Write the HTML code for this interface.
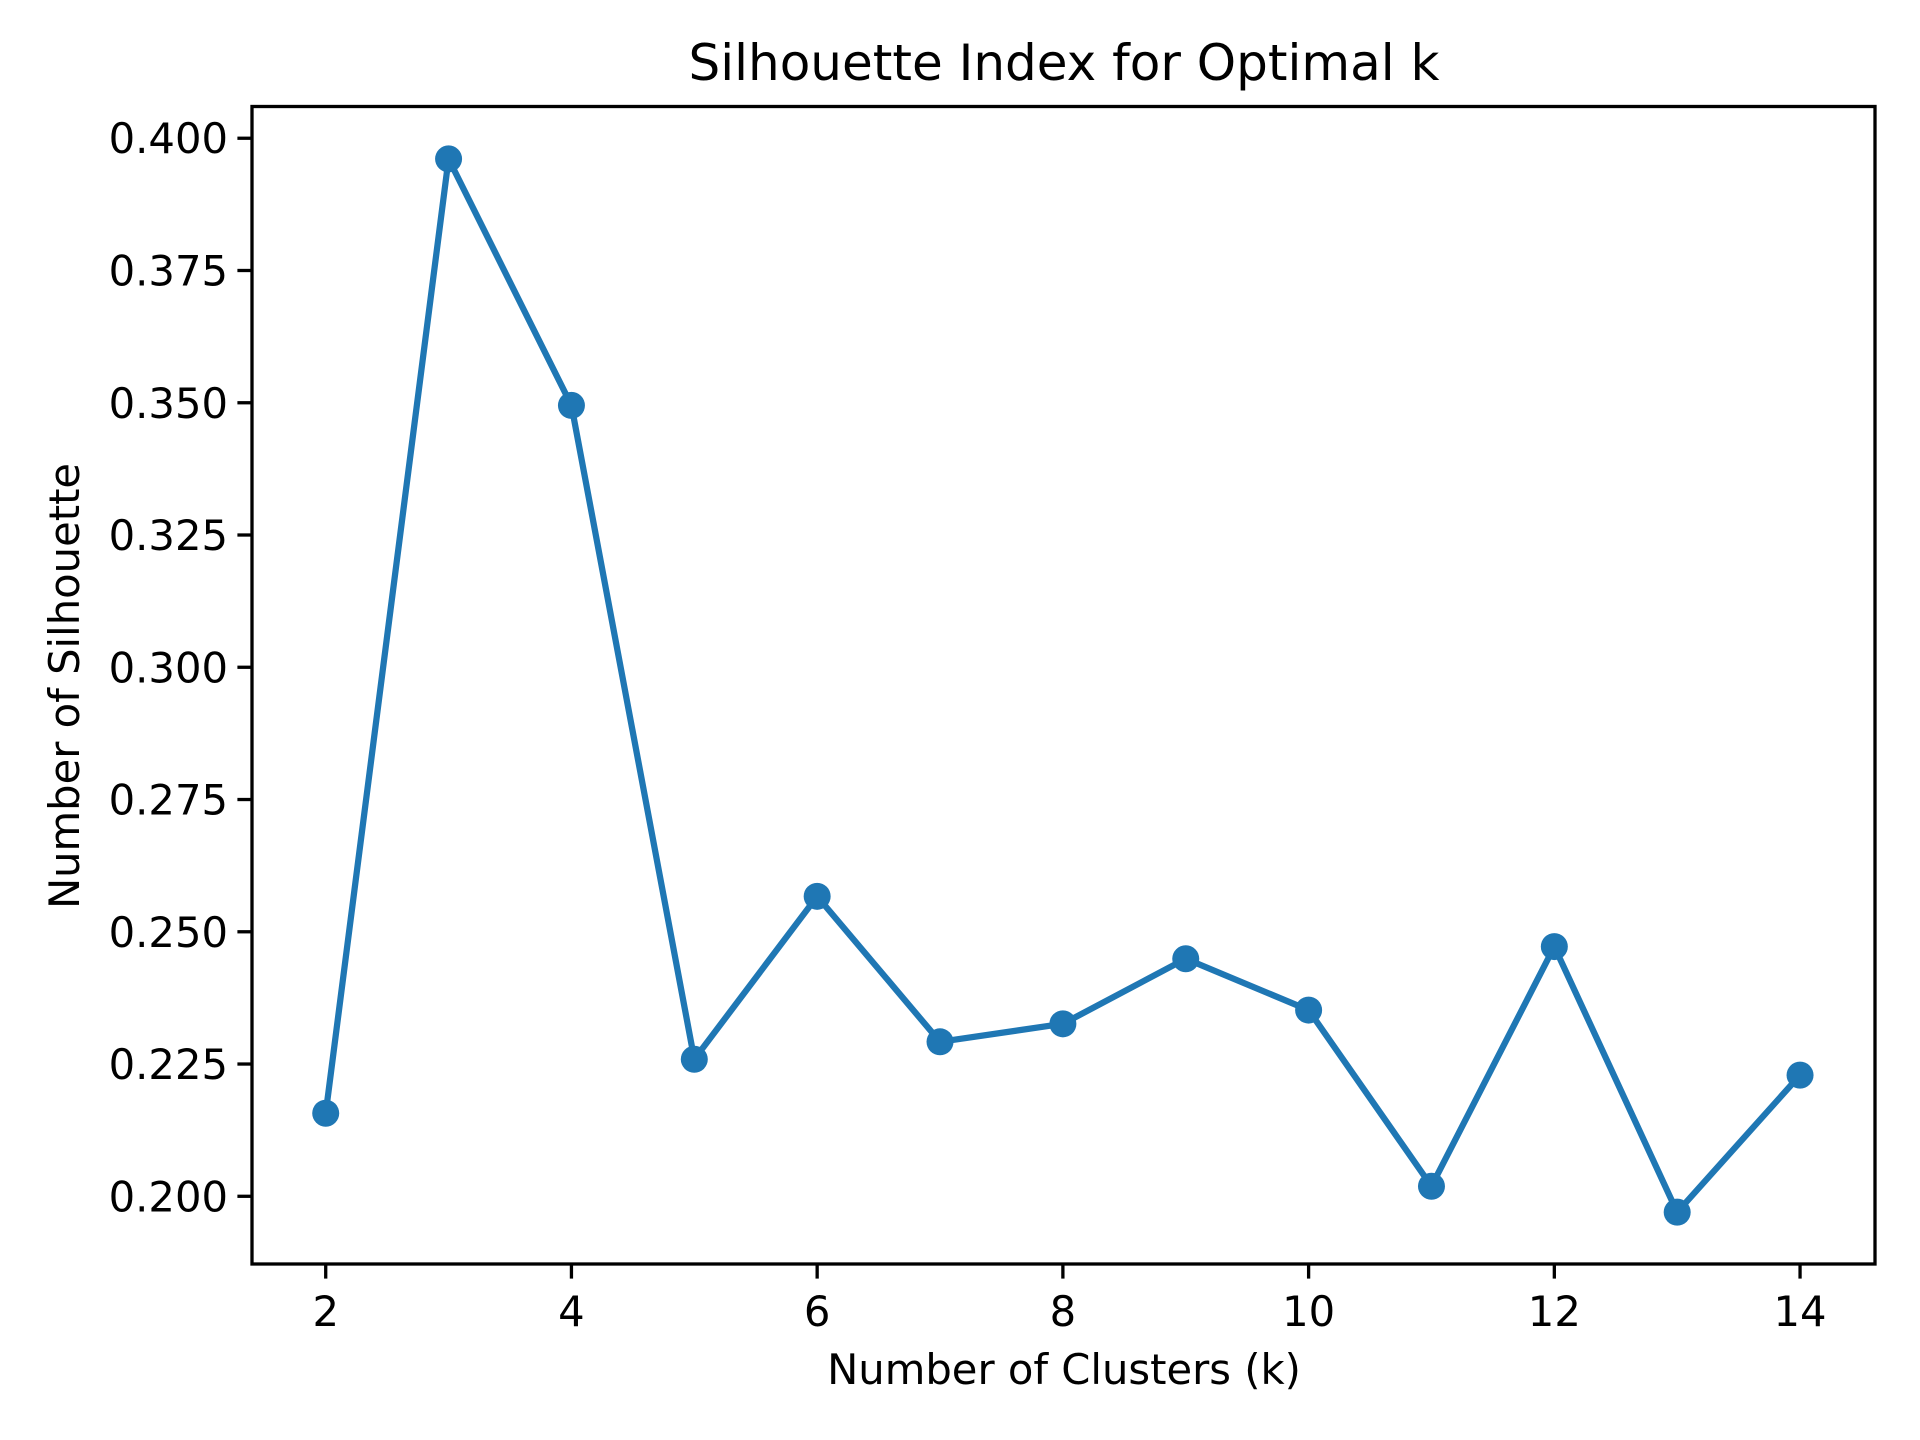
<!DOCTYPE html>
<html><head><meta charset="utf-8"><style>html,body{margin:0;padding:0;background:#fff}svg{display:block}text{font-family:"DejaVu Sans","Liberation Sans",sans-serif;fill:#000}</style></head>
<body>
<svg id="chart" width="1920" height="1440" viewBox="0 0 1920 1440" xmlns="http://www.w3.org/2000/svg">
<rect width="1920" height="1440" fill="#fff"/>
<text x="1064" y="80" font-size="50" text-anchor="middle">Silhouette Index for Optimal k</text>
<text x="1064" y="1384" font-size="41.7" text-anchor="middle">Number of Clusters (k)</text>
<text x="0" y="0" font-size="41.7" text-anchor="middle" transform="translate(79,686) rotate(-90)">Number of Silhouette</text>
<g id="axes"></g>
<g id="series"></g>
<rect x="252" y="106.5" width="1623" height="1157.5" fill="none" stroke="#000" stroke-width="3.3"/>
</svg>
<script>
const clusterCounts = [2,3,4,5,6,7,8,9,10,11,12,13,14];
const silhouetteScores = [0.2157,0.3961,0.3495,0.2259,0.2567,0.2292,0.2326,0.2449,0.2352,0.2019,0.2472,0.1970,0.2229];
const xTicks = [2,4,6,8,10,12,14];
const yTicks = [0.200,0.225,0.250,0.275,0.300,0.325,0.350,0.375,0.400];
const yTickLabels = ["0.200","0.225","0.250","0.275","0.300","0.325","0.350","0.375","0.400"];

const L=252,R=1875,T=106.5,B=1264;
const xMin=1.4,xMax=14.61,yMin=0.1872,yMax=0.406;
const sx=v=>L+(v-xMin)/(xMax-xMin)*(R-L);
const sy=v=>B-(v-yMin)/(yMax-yMin)*(B-T);
const NS="http://www.w3.org/2000/svg";
const axes=document.getElementById('axes');
const series=document.getElementById('series');
function mk(tag,attrs,parent){const e=document.createElementNS(NS,tag);for(const k in attrs)e.setAttribute(k,attrs[k]);parent.appendChild(e);return e;}

xTicks.forEach(t=>{
  const x=sx(t);
  const ln=mk('line',{x1:x,x2:x,y1:B,y2:B+14.6,stroke:'#000','stroke-width':3.3},axes);
  
  
  const tx=mk('text',{x:x,y:B+62,'font-size':41.7,'text-anchor':'middle'},axes);
  tx.textContent=String(t);
  
  
});
yTicks.forEach((t,i)=>{
  const y=sy(t);
  const ln=mk('line',{x1:L-14.6,x2:L,y1:y,y2:y,stroke:'#000','stroke-width':3.3},axes);
  
  
  const tx=mk('text',{x:L-24,y:y+15,'font-size':41.7,'text-anchor':'end'},axes);
  tx.textContent=yTickLabels[i];
  
  
});
const pts=clusterCounts.map((k,i)=>sx(k)+','+sy(silhouetteScores[i])).join(' ');
const pl=mk('polyline',{points:pts,fill:'none',stroke:'#1f77b4','stroke-width':6.25,'stroke-linejoin':'round'},series);


clusterCounts.forEach((k,i)=>{
  const c=mk('circle',{cx:sx(k),cy:sy(silhouetteScores[i]),r:13.5,fill:'#1f77b4'},series);
  
  
});
</script>
</body></html>
